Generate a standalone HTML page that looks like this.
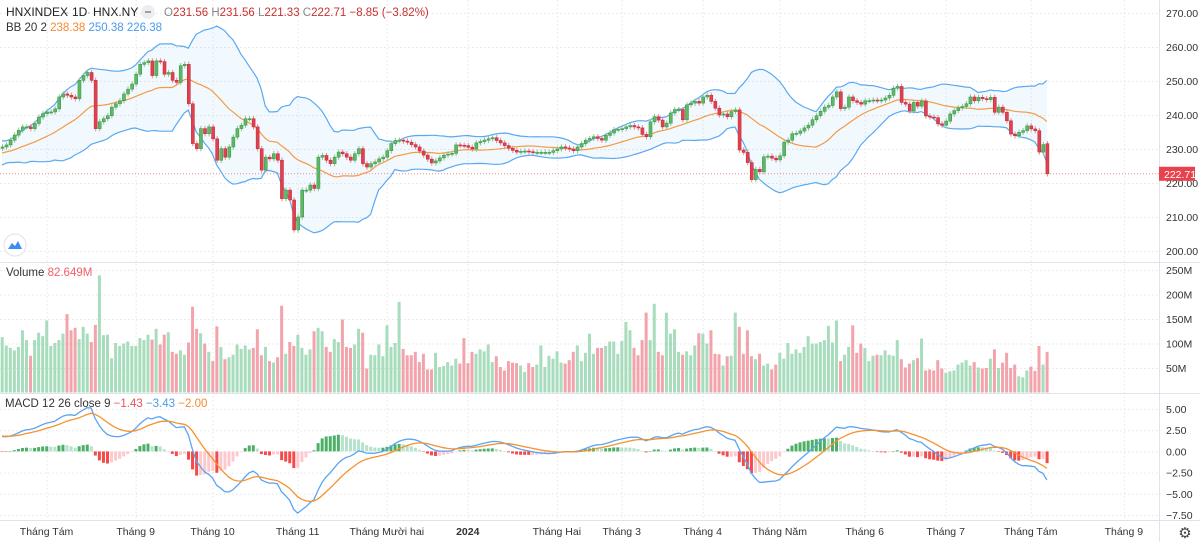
<!DOCTYPE html>
<html><head><meta charset="utf-8"><style>
html,body{margin:0;padding:0;background:#fff;}
svg{display:block;font-family:"Liberation Sans",sans-serif;}
</style></head><body>
<svg id="c" width="1200" height="542" viewBox="0 0 1200 542"></svg>
<script>
// ---- data ----
const priorCloses=[220,221,220.5,222,221.5,223,222,221,222.5,223.5,224,223,222.5,223.5,224.5,225,224,223.5,224.5,225.5,226,225,226.5,227,226,227.5,228,227,228.5,229,228.5,229.5,230,229,230.5,231,230,231.5,230.8,230.2];
const closesA=[230.6,231.2,232.6,234.1,235.5,236.5,236.5,236,237.5,239.4,240.4,240.9,240.9,241.8,245.3,246.2,245.8,245.3,244.8,250.2,251.6,252.5,250.2,236,238,238.9,239.8,242.3,243.3,244.2,246.2,247.6,249.1,252,254.9,255.4,255.9,251.6,255.9,255.7,252,252.5,250.2,249.6,254.5,254.9,243.3,231.6,230.1,236,234.5,236.5,233,226.7,230.1,227.6,230.6,233.5,236,237,238.9,238.9,236.5,230.1,223.8,227.6,227.1,228.6,226.7,215.4,217.9,215,206.2,210,217.9,217.9,219.4,218.4,227.6,228.1,226.7,225.7,227.6,229.1,228.6,227.6,226.7,228.6,230.1,225.7,224.7,225.7,226.2,227.1,227.6,229.5,231.6,232.5];
const closesB=[232.6,232.3,232,231.3,230.6,229.4,228.2,227,225.9,226.5,227.4,228.2,228.5,228.7,231.2,231.1,231,230.5,230,231.8,232.2,232.6,233,233.3,232.5,231.8,231,230.2,229.6,229.1,229.3,229.4,229.2,229,229,229,229,229,229.5,230,230.6,230.3,230,229.5,230.6,231.6,232.6,233.1,233.6,233.1,232.6,234,234.7,235.7,235.8,236,236.5,236.9,236.5,236.2,234.3,233.6,238,239.5,238.5,236.5,237.6,240.6,241.6,241.6,238.6,243,243.5,244,243.5,245.3,245.8,244,242,240,240.3,239.5,241,241.5,229.7,229,226,221,224,223.3];
const closesC=[227.7,227.9,227.3,226.8,228,232,232.6,234.5,234.6,235.3,236.2,237,238.6,239.8,241.1,242.3,242.8,245.3,246.8,241.9,242.3,245.3,244.2,243.7,243.2,244.2,244.2,244.4,244.2,244.4,245,245.8,247.9,248.4,243.7,243.2,241.2,243.7,242.6,244.1,239.7,239.4,239.2,237.4,237,238.2,240.3,241.3,242.1,242.5,243.3,245.3,244.2,245.2,244.8,244.5,245.2,240.8,242.3,240.8,238.3,234.4,233.9,234.9,235.4,236.8,235.9,235.4,229.1,231.3,222.71];
const closes=closesA.concat(closesB,closesC);
const lastOpen=231.56;
const volumeM=[113,96,91,86,93,127,107,75,107,122,115,147,95,101,107,120,160,127,132,109,134,120,103,138,239,117,118,70,101,95,100,104,95,95,111,107,118,108,130,98,118,123,83,79,86,77,102,175,130,121,100,83,64,135,93,68,72,77,98,89,96,88,91,129,76,93,64,61,72,177,79,103,95,118,91,77,88,125,132,125,93,83,109,103,149,93,91,98,130,122,49,77,76,98,74,137,93,101,185,89,76,76,83,62,79,47,47,81,52,54,62,55,69,59,111,60,83,79,88,84,98,62,74,52,45,64,61,
60,55,42,60,52,57,96,52,75,69,84,61,59,66,83,96,64,81,120,79,91,91,95,104,104,79,105,144,127,91,76,107,163,107,181,83,76,163,120,129,83,77,84,76,96,121,120,100,127,79,78,55,74,75,163,134,79,127,74,68,79,55,59,47,57,81,69,101,79,88,81,93,115,100,100,103,107,136,102,147,64,77,93,137,81,100,91,64,75,77,76,86,77,75,107,68,51,59,66,70,110,45,47,45,66,49,40,43,45,57,61,66,55,62,51,49,50,69,88,50,61,81,50,57,33,31,45,53,44,95,57,83];
const priceTicks=[200,210,220,230,240,250,260,270];
const volTicks=[50,100,150,200,250];
const macdTicks=[5,2.5,0,-2.5,-5,-7.5];
const monthLabels=["Tháng Tám","Tháng 9","Tháng 10","Tháng 11","Tháng Mười hai","2024","Tháng Hai","Tháng 3","Tháng 4","Tháng Năm","Tháng 6","Tháng 7","Tháng Tám","Tháng 9"];
const monthIdx=[11,33,52,73,95,115,137,153,173,192,213,233,254,277];

// ---- scales ----
const N=closes.length, SP=4.05, X0=2;
const xAt=i=>X0+i*SP;
const yP=v=>251-(v-200)*3.4;
const yV=m=>392.5-m*0.49;
const yM=v=>451.4-v*8.48;
const svg=document.getElementById('c');
const NS='http://www.w3.org/2000/svg';
function mk(tag,attrs,parent){const e=document.createElementNS(NS,tag);for(const k in attrs)e.setAttribute(k,attrs[k]);(parent||svg).appendChild(e);return e;}
function txt(s,x,y,attrs,parent){const e=mk('text',Object.assign({x:x,y:y},attrs),parent);e.textContent=s;return e;}

// ---- grids ----
const grid=mk('g',{stroke:'#e6e6e6','stroke-dasharray':'1.5 2.5','stroke-width':1});


priceTicks.forEach(v=>mk('line',{x1:0,x2:1159,y1:yP(v)+.5,y2:yP(v)+.5},grid));
volTicks.forEach(v=>mk('line',{x1:0,x2:1159,y1:yV(v)+.5,y2:yV(v)+.5},grid));
macdTicks.forEach(v=>mk('line',{x1:0,x2:1159,y1:yM(v)+.5,y2:yM(v)+.5},grid));
monthIdx.forEach(i=>mk('line',{x1:xAt(i)+.5,x2:xAt(i)+.5,y1:0,y2:520},grid));
mk('line',{x1:0,x2:1200,y1:262.5,y2:262.5,stroke:'#e0e3eb'});
mk('line',{x1:0,x2:1200,y1:393.5,y2:393.5,stroke:'#e0e3eb'});
mk('line',{x1:0,x2:1200,y1:520.5,y2:520.5,stroke:'#e0e3eb'});
mk('line',{x1:1159.5,x2:1159.5,y1:0,y2:542,stroke:'#e0e3eb'});

// ---- indicators ----
const all=priorCloses.concat(closes), P=priorCloses.length;
const mid=[],up=[],lo=[];
for(let i=0;i<N;i++){const w=all.slice(P+i-19,P+i+1);const m=w.reduce((a,b)=>a+b,0)/20;const sd=Math.sqrt(w.reduce((a,b)=>a+(b-m)*(b-m),0)/20);mid.push(m);up.push(m+2*sd);lo.push(m-2*sd);}
function ema(arr,n){const k=2/(n+1);const out=[];let e=arr[0];arr.forEach((v,i)=>{e=i?v*k+e*(1-k):v;out.push(e);});return out;}
const e12=ema(all,12),e26=ema(all,26);const macdAll=all.map((v,i)=>e12[i]-e26[i]);const sigAll=ema(macdAll,9);
const macd=macdAll.slice(P),sig=sigAll.slice(P),hist=macd.map((v,i)=>v-sig[i]);
const prevHist=macdAll.map((v,i)=>v-sigAll[i])[P-1];

// BB
const bb=mk('g',{});


let fill='M'+closes.map((c,i)=>xAt(i)+','+yP(up[i])).join(' L')+' L'+closes.map((c,i)=>xAt(N-1-i)+','+yP(lo[N-1-i])).join(' L')+'Z';
mk('path',{d:fill,fill:'rgba(33,150,243,0.06)'},bb);
const ln=a=>'M'+a.map((v,i)=>xAt(i).toFixed(1)+','+yP(v).toFixed(1)).join(' L');
mk('path',{d:ln(up),fill:'none',stroke:'#5aa9f0','stroke-width':1.2},bb);
mk('path',{d:ln(lo),fill:'none',stroke:'#5aa9f0','stroke-width':1.2},bb);
mk('path',{d:ln(mid),fill:'none',stroke:'#f59a45','stroke-width':1.2},bb);

mk('line',{x1:0,x2:1159,y1:yP(closes[N-1]),y2:yP(closes[N-1]),stroke:'#f08a93','stroke-dasharray':'1 2'});

// candles
const cg=mk('g',{});


const opens=closes.map((c,i)=>i===N-1?lastOpen:(i?closes[i-1]:priorCloses[P-1]));
closes.forEach((c,i)=>{
 const o=opens[i],upc=c>=o,x=xAt(i);
 const col=upc?'#3f9a4a':'#c4303f',fc=upc?'#5fb868':'#e0414f';
 const hi=Math.max(o,c)+0.8,lw=Math.min(o,c)-0.8;
 const w=mk('line',{x1:x+.5,x2:x+.5,y1:yP(hi),y2:yP(lw),stroke:upc?'#8cc594':'#e48a93'},cg);
 
 
 const top=yP(Math.max(o,c)),h=Math.max(1,yP(Math.min(o,c))-top);
 const r=mk('rect',{x:x-1,y:top,width:3,height:h,fill:fc,stroke:col,'stroke-width':.6},cg);
 
 
});

// volume
const vg=mk('g',{});


for(let i=0;i<Math.min(N,volumeM.length);i++){
 const upc=closes[i]>=opens[i];
 const r=mk('rect',{x:xAt(i)-1.3,y:yV(volumeM[i]),width:3,height:392.5-yV(volumeM[i]),fill:upc?'#a7dcbc':'#f3a3ab'},vg);
 
 
}

// MACD
const mg=mk('g',{});


hist.forEach((h,i)=>{
 const p=i?hist[i-1]:prevHist;
 let col;
 if(h>=0) col=h>=p?'#4caf66':'#b5e2cc'; else col=h<=p?'#f44a4a':'#fcc9cf';
 const y0=yM(0),y1=yM(h);
 const r=mk('rect',{x:xAt(i)-1.3,y:Math.min(y0,y1),width:3,height:Math.max(.5,Math.abs(y1-y0)),fill:col},mg);
 
 
});
const lm=a=>'M'+a.map((v,i)=>xAt(i).toFixed(1)+','+yM(v).toFixed(1)).join(' L');
const ml=mk('path',{d:lm(macd),fill:'none',stroke:'#5ba4f5','stroke-width':1.3},mg);


const sl=mk('path',{d:lm(sig),fill:'none',stroke:'#f5922f','stroke-width':1.3},mg);



// ---- axes ----
const ax=mk('g',{'font-size':'10.5',fill:'#333'});


priceTicks.forEach(v=>txt(v.toFixed(2),1166,yP(v)+4,{},ax));
volTicks.forEach(v=>txt(v+'M',1166,yV(v)+4,{},ax));
macdTicks.forEach(v=>txt((v<0?'−':'')+Math.abs(v).toFixed(2),1166,yM(v)+4,{},ax));
const lb=mk('rect',{x:1159,y:yP(closes[N-1])-7,width:36,height:14,fill:'#e8424f'});


txt(closes[N-1].toFixed(2),1164,yP(closes[N-1])+4,{fill:'#fff','font-size':'10.5'});
const tx=mk('g',{'font-size':'10.5',fill:'#333','text-anchor':'middle'});


monthLabels.forEach((l,k)=>txt(l,xAt(monthIdx[k]),535,l==='2024'?{'font-weight':'bold'}:{},tx));

// ---- legends ----
const lg=mk('g',{'font-size':'12'});


txt('HNXINDEX',6,16,{fill:'#222','font-size':'12'},lg);
txt('·',65,16,{fill:'#999','font-size':'12'},lg);
txt('1D',72,16,{fill:'#222','font-size':'12'},lg);
txt('·',87,16,{fill:'#999','font-size':'12'},lg);
txt('HNX.NY',93,16,{fill:'#222','font-size':'12'},lg);
mk('circle',{cx:148,cy:12,r:7,fill:'#eceef2'},lg);
mk('line',{x1:145,x2:151,y1:12,y2:12,stroke:'#777','stroke-width':1.3},lg);
const ohlc=mk('text',{x:164,y:16,'font-size':'11.5'},lg);
ohlc.innerHTML='<tspan fill="#888">O</tspan><tspan fill="#c9302f">231.56 </tspan><tspan fill="#888">H</tspan><tspan fill="#c9302f">231.56 </tspan><tspan fill="#888">L</tspan><tspan fill="#c9302f">221.33 </tspan><tspan fill="#888">C</tspan><tspan fill="#c9302f">222.71  −8.85 (−3.82%)</tspan>';
const bbl=mk('text',{x:6,y:31,'font-size':'11.5'},lg);
bbl.innerHTML='<tspan fill="#333">BB 20 2 </tspan><tspan fill="#f58a2c"> 238.38 </tspan><tspan fill="#4a9bed"> 250.38  226.38</tspan>';
const vl=mk('text',{x:6,y:276,'font-size':'11.5'});


vl.innerHTML='<tspan fill="#333">Volume </tspan><tspan fill="#f0606a"> 82.649M</tspan>';
const mlg=mk('text',{x:5,y:407,'font-size':'11.5'});


mlg.innerHTML='<tspan fill="#333">MACD 12 26 close 9 </tspan><tspan fill="#f0505a"> −1.43 </tspan><tspan fill="#4a9bed"> −3.43 </tspan><tspan fill="#f58a2c"> −2.00</tspan>';

const logo=mk('g',{});


mk('circle',{cx:15,cy:245,r:11,fill:'#fff',stroke:'#e0e3eb'},logo);
mk('path',{d:'M8,249 L12,243 L15,246 L18,241 L22,249 Z',fill:'#3c8ff0'},logo);
const gear=mk('text',{x:1185,y:538,'font-size':'15',fill:'#444','text-anchor':'middle'});
gear.textContent='⚙';


</script>
</body></html>
